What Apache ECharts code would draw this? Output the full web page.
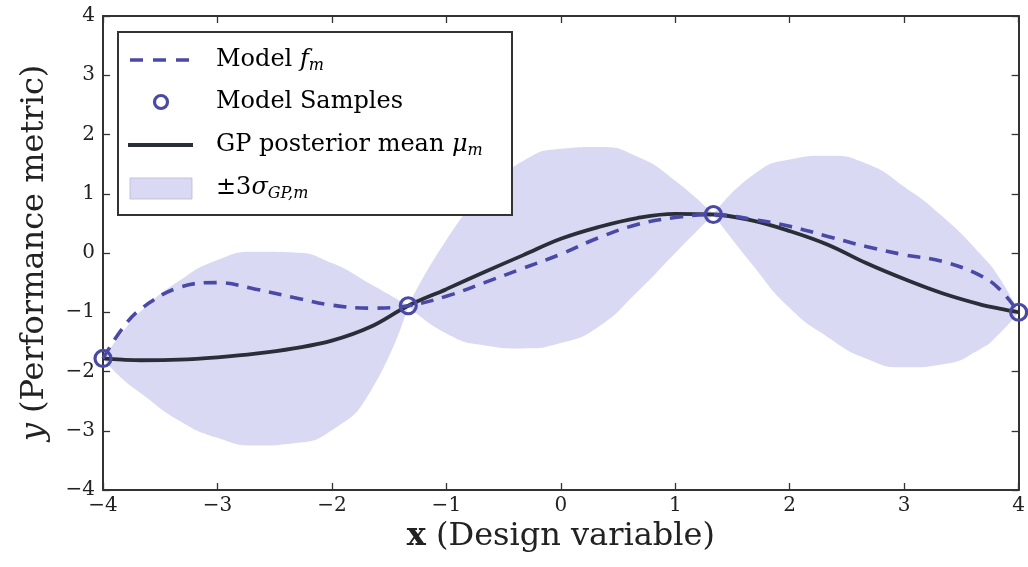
<!DOCTYPE html>
<html>
<head>
<meta charset="utf-8">
<script src="https://cdn.jsdelivr.net/npm/echarts@6/dist/echarts.min.js"></script>
<style>
html,body{margin:0;padding:0;background:#fff;}
#chart{width:1028px;height:567px;}
</style>
</head>
<body>
<div id="chart"></div>
<script>
// ---- data ----
const xs = [-4, -3.833, -3.667, -3.333, -3, -2.667, -2.333, -2, -1.667, -1.333,
            -1, -0.667, -0.333, 0, 0.333, 0.667, 1, 1.333,
            1.667, 2, 2.333, 2.667, 3, 3.333, 3.667, 3.833, 4];
const gpMean = [-1.78, -1.80, -1.81, -1.80, -1.76, -1.70, -1.61, -1.48, -1.25, -0.89,
                -0.61, -0.32, -0.04, 0.24, 0.44, 0.59, 0.66, 0.65,
                0.55, 0.37, 0.14, -0.17, -0.44, -0.68, -0.87, -0.94, -1.00];
const modelF = [-1.78, -1.28, -0.94, -0.58, -0.50, -0.61, -0.75, -0.88, -0.93, -0.89,
                -0.73, -0.50, -0.26, -0.02, 0.26, 0.48, 0.60, 0.65,
                0.57, 0.45, 0.28, 0.11, -0.03, -0.14, -0.38, -0.61, -1.00];
const bandUpper = [-1.78, -1.35, -0.98, -0.47, -0.12, 0.02, 0.01, -0.17, -0.52, -0.89,
                   0.22, 1.02, 1.55, 1.76, 1.79, 1.63, 1.22, 0.65,
                   1.30, 1.58, 1.64, 1.51, 1.12, 0.62, -0.02, -0.42, -1.00];
const bandLower = [-1.78, -2.12, -2.37, -2.83, -3.12, -3.25, -3.21, -2.99, -2.35, -0.89,
                   -1.36, -1.56, -1.61, -1.52, -1.24, -0.66, 0.00, 0.65,
                   -0.18, -0.93, -1.42, -1.78, -1.93, -1.88, -1.62, -1.36, -1.00];
const sampleX = [-4, -1.333, 1.333, 4];
const sampleY = [-1.78, -0.89, 0.65, -1.00];
const pinchIdx = [0, 9, 17, 26];   // band lobes between sample points
const legendLabels = [
  '{n|Model }{i|f}{s|m}',
  '{n|Model Samples}',
  '{n|GP posterior mean }{i|μ}{s|m}',
  '{n|±3}{i|σ}{s|GP,m}'
];

// ---- styles ----
const FONT = 'DejaVu Serif';
const BLUE = '#4a4aa6';
const DARK = '#2a2e38';
const BAND = '#d9d9f3';
const AXIS = '#333333';
const minusFmt = v => (v < 0 ? '\u2212' : '') + Math.abs(v);

const series = [];
// uncertainty band: per lobe, fill below the upper edge with the band colour,
// then cover below the lower edge with the background colour
for (let k = 0; k < pinchIdx.length - 1; k++) {
  const a = pinchIdx[k], b = pinchIdx[k + 1];
  const up = [], lo = [];
  for (let i = a; i <= b; i++) {
    up.push([xs[i], bandUpper[i]]);
    lo.push([xs[i], bandLower[i]]);
  }
  series.push({
    type: 'line', data: up, symbol: 'none', smooth: 0.55, silent: true, z: -3,
    lineStyle: {width: 0, opacity: 0}, areaStyle: {color: BAND, opacity: 1, origin: 'start'}
  });
  const white = {
    type: 'line', data: lo, symbol: 'none', smooth: 0.55, silent: true, z: -2,
    lineStyle: {width: 0, opacity: 0}, areaStyle: {color: '#ffffff', opacity: 1, origin: 'start'}
  };
  if (k === 0) {
    // hide anti-aliasing seams under the interior pinch points
    white.markLine = {
      silent: true, z: -1, symbol: ['none', 'none'], label: {show: false},
      lineStyle: {color: '#ffffff', width: 2, type: 'solid', opacity: 1},
      emphasis: {disabled: true},
      data: [1, 2].map(j => [{coord: [sampleX[j], -4]}, {coord: [sampleX[j], sampleY[j]]}])
    };
  }
  series.push(white);
}
series.push({
  name: 'GP posterior mean', type: 'line', data: xs.map((x, i) => [x, gpMean[i]]),
  symbol: 'none', smooth: 0.4, lineStyle: {color: DARK, width: 3.8}, z: 3
});
series.push({
  name: 'Model', type: 'line', data: xs.map((x, i) => [x, modelF[i]]),
  symbol: 'none', smooth: 0.4, lineStyle: {color: BLUE, width: 3.6, type: [13, 9]}, z: 4
});
series.push({
  name: 'Model Samples', type: 'scatter', data: sampleX.map((x, i) => [x, sampleY[i]]),
  symbol: 'circle', symbolSize: 16, clip: false,
  itemStyle: {color: 'rgba(255,255,255,0)', borderColor: BLUE, borderWidth: 3.2, opacity: 1}, z: 5
});

const commonAxis = {
  type: 'value', min: -4, max: 4, interval: 1,
  axisLine: {show: true, onZero: false, lineStyle: {color: AXIS, width: 2}},
  axisTick: {show: true, inside: true, length: 7, lineStyle: {color: AXIS, width: 1.3}},
  splitLine: {show: false}
};
const labelStyle = {fontFamily: FONT, fontSize: 20, color: '#222', formatter: minusFmt};
const richName = {
  b: {fontFamily: FONT, fontSize: 32, fontWeight: 'bold', color: '#222'},
  i: {fontFamily: FONT, fontSize: 32, fontStyle: 'italic', color: '#222'}
};

const legendRows = [60, 102, 145, 188];
const rich = {
  n: {fontFamily: FONT, fontSize: 24, color: '#222'},
  i: {fontFamily: FONT, fontSize: 24, fontStyle: 'italic', color: '#222'},
  s: {fontFamily: FONT, fontSize: 16, fontStyle: 'italic', color: '#222', padding: [12, 0, 0, 0]}
};
const graphic = [
  {type: 'rect', shape: {x: 118, y: 32, width: 394, height: 183}, style: {fill: '#fff', stroke: AXIS, lineWidth: 2}, z: 100},
  {type: 'line', shape: {x1: 130, y1: 60, x2: 192, y2: 60}, style: {stroke: BLUE, lineWidth: 3.6, lineDash: [13, 10]}, z: 101},
  {type: 'circle', shape: {cx: 161, cy: 102, r: 6.5}, style: {fill: 'rgba(0,0,0,0)', stroke: BLUE, lineWidth: 3.2}, z: 101},
  {type: 'line', shape: {x1: 128, y1: 145, x2: 193, y2: 145}, style: {stroke: DARK, lineWidth: 4}, z: 101},
  {type: 'rect', shape: {x: 130, y: 178, width: 62, height: 21}, style: {fill: BAND, stroke: '#b9b9d4', lineWidth: 0.8}, z: 101}
];
legendLabels.forEach((t, i) => {
  graphic.push({type: 'text', x: 216, y: legendRows[i], z: 101,
    style: {text: t, rich: rich, verticalAlign: 'middle', textVerticalAlign: 'middle', align: 'left'}});
});

const option = {
  backgroundColor: '#fff',
  animation: false,
  grid: {left: 103, right: 2, top: 16, bottom: 77, containLabel: false},
  xAxis: [
    Object.assign({}, commonAxis, {
      position: 'bottom',
      axisLabel: Object.assign({margin: 6}, labelStyle),
      name: '{b|x} (Design variable)', nameLocation: 'middle', nameGap: 30,
      nameTextStyle: {fontFamily: FONT, fontSize: 32, color: '#222', rich: richName}
    }),
    Object.assign({}, commonAxis, {position: 'top', axisLabel: {show: false}})
  ],
  yAxis: [
    Object.assign({}, commonAxis, {
      position: 'left',
      axisLabel: Object.assign({margin: 8}, labelStyle),
      name: '{i|y} (Performance metric)', nameLocation: 'middle', nameGap: 52, nameRotate: 90,
      nameTextStyle: {fontFamily: FONT, fontSize: 32, color: '#222', rich: richName}
    }),
    Object.assign({}, commonAxis, {position: 'right', axisLabel: {show: false}})
  ],
  series: series,
  graphic: graphic
};

const chart = echarts.init(document.getElementById('chart'), null, {renderer: 'canvas'});
chart.setOption(option);
</script>
</body>
</html>
